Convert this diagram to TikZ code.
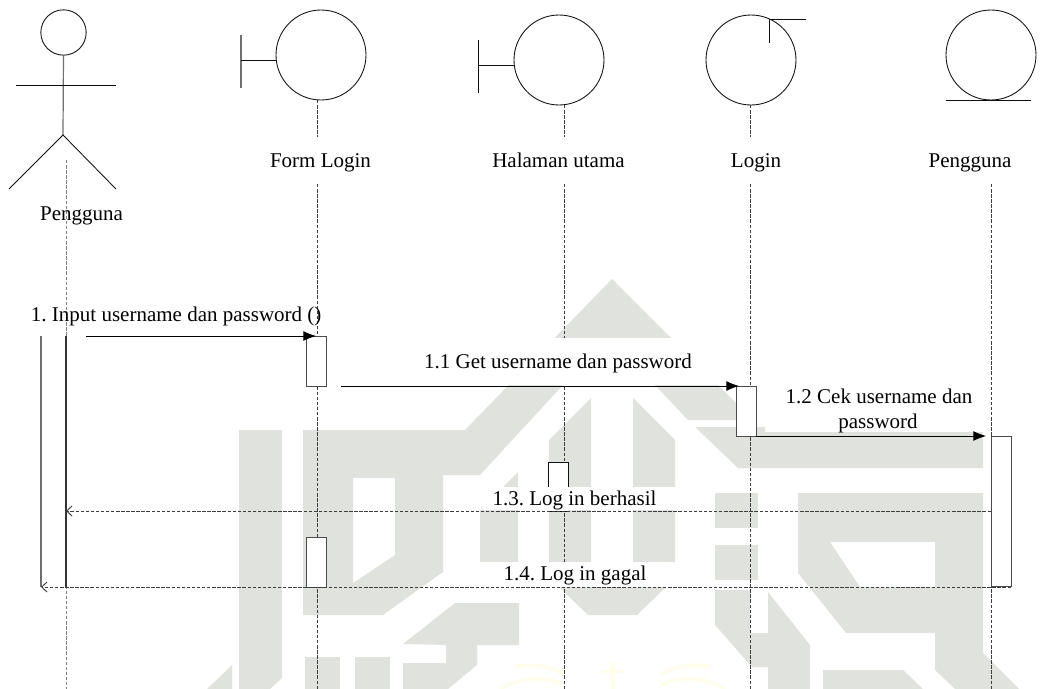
\documentclass[tikz,border=0pt]{standalone}
\usepackage{fontspec}
\setmainfont{Liberation Serif}
\usetikzlibrary{arrows.meta}
\definecolor{wm}{RGB}{224,226,221}
\definecolor{palm}{RGB}{255,254,236}
\definecolor{ink}{RGB}{15,15,15}
\definecolor{dashink}{RGB}{60,60,60}
\tikzset{
  x=0.75pt,y=-0.75pt,
  every node/.style={font=\frenchspacing\fontsize{15.75}{18}\selectfont,text=black,inner sep=0pt,outer sep=0pt},
  shapeline/.style={draw=ink,line width=0.65pt},
  stick/.style={draw=ink!60,line width=0.9pt},
  obj/.style={circle,draw=ink,line width=0.65pt,minimum size=67.5pt,fill=none},
  head/.style={circle,draw=ink,line width=0.65pt,minimum size=34pt,fill=none},
  life/.style={draw=dashink,line width=0.65pt,dash pattern=on 2.6pt off 1.2pt},
  lifelight/.style={draw=gray,line width=0.6pt,dash pattern=on 2.6pt off 1.2pt},
  act/.style={rectangle,draw=ink!75,line width=0.7pt,fill=white,minimum width=15pt},
  msg/.style={draw=black,line width=0.65pt,-{Latex[length=9.5pt,width=7.5pt]}},
  ret/.style={draw=dashink,line width=0.7pt,dash pattern=on 2.6pt off 1.2pt,-{Straight Barb[length=4pt,width=7.5pt]}},
  lbl/.style={anchor=base}
}
\begin{document}
\begin{tikzpicture}
\useasboundingbox (0,0) rectangle (1040,689);
% watermark
\begin{scope}[even odd rule]
\fill[wm] (303,430)--(465,430)--(612,279)--(740,407)--(740,420)--(688,420)--(655,385)--(609,339)--(563,385)--(480,475)--(443,475)--(443,572)--(383,615)--(303,615)--cycle
 (353,478)--(395,478)--(395,555)--(353,583)--cycle;
\fill[wm] (798,493)--(983,493)--(983,653)--(1019,689)--(955,689)--(935,670)--(935,633)--(846,633)--(798,573)--cycle
 (830,542)--(935,542)--(935,587)--(860,587)--cycle;
\end{scope}
\fill[wm] (239,430)--(282,430)--(282,678)--(270,689)--(239,689)--cycle;
\fill[wm] (207,689)--(232,665)--(232,689)--cycle;
\fill[wm] (305,657) rectangle (340,689);
\fill[wm] (355,657) rectangle (390,689);
\fill[wm] (403,644)--(455,603)--(519,603)--(519,645)--(477,645)--(477,665)--(448,689)--(403,689)--(403,663)--(446,663)--(446,645)--cycle;
\fill[wm] (518,472)--(518,562)--(480,562)--(480,510)--cycle;
\fill[wm] (591,398)--(591,562)--(549,562)--(549,440)--cycle;
\fill[wm] (633,398)--(675,440)--(675,562)--(633,562)--cycle;
\fill[wm] (559,587)--(588,615)--(637,615)--(666,587)--cycle;
\fill[wm] (695,427)--(765,427)--(765,432)--(983,432)--(983,468)--(738,468)--cycle;
\fill[wm] (715,493) rectangle (758,528);
\fill[wm] (715,545) rectangle (758,580);
\fill[wm] (715,590)--(750,590)--(750,633)--(768,633)--(768,592)--(810,645)--(810,689)--(768,689)--(768,667)--(752,667)--(715,625)--cycle;
\fill[wm] (823,670)--(903,670)--(923,689)--(823,689)--cycle;
% palm
\begin{scope}[draw=palm,line width=3pt,line cap=round]
\draw (517,666) .. controls (540,664) and (555,668) .. (563,674);
\draw (502,688) .. controls (520,678) and (545,676) .. (563,684);
\draw (709,666) .. controls (686,664) and (671,668) .. (663,674);
\draw (724,688) .. controls (706,678) and (681,676) .. (663,684);
\draw (613,664) -- (613,689);
\draw (603,671) -- (623,671);
\end{scope}
% coordinates
\coordinate (fl1) at (317,100); \coordinate (fl2) at (317,137);
\coordinate (fl3) at (317,184); \coordinate (fl4) at (317,689);
\coordinate (hu1) at (564,105); \coordinate (hu2) at (564,137);
\coordinate (hu3) at (564,184); \coordinate (hu4) at (564,689);
\coordinate (lg1) at (750,105); \coordinate (lg2) at (750,137);
\coordinate (lg3) at (750,184); \coordinate (lg4) at (750,689);
\coordinate (pg3) at (991,184); \coordinate (pg4) at (991,689);
\coordinate (ac3) at (66,160); \coordinate (ac4) at (66,689);
% lifelines
\draw[lifelight] (ac3) -- (ac4);
\draw[life] (fl1) -- (fl2);
\draw[life] (fl3) -- (fl4);
\draw[life] (hu1) -- (hu2);
\draw[life] (hu3) -- (hu4);
\draw[life] (lg1) -- (lg2);
\draw[life] (lg3) -- (lg4);
\draw[life] (pg3) -- (pg4);
% label backgrounds
\fill[white] (400,338) rectangle (736,385);
\fill[white] (445,487) rectangle (690,510);
\fill[white] (445,562) rectangle (670,586.5);
% actor
\node[head] (actorhead) at (63.5,32.5) {};
\coordinate (neck) at (63,55); \coordinate (hip) at (63,135);
\coordinate (armL) at (16,85); \coordinate (armR) at (116,85);
\coordinate (footL) at (9,189); \coordinate (footR) at (116,189);
\draw[stick] (actorhead.south) -- (hip);
\draw[shapeline] (armL) -- (armR);
\draw[shapeline] (footL) -- (hip) -- (footR);
% form login boundary
\node[obj] (form) at (321,55) {};
\coordinate (fbT) at (241,35); \coordinate (fbB) at (241,88); \coordinate (fbM) at (241,60);
\draw[stick] (fbT) -- (fbB);
\draw[shapeline] (fbM) -- (form.west |- fbM);
% halaman boundary
\node[obj] (hal) at (559,60) {};
\coordinate (hbT) at (478.5,40); \coordinate (hbB) at (478.5,93); \coordinate (hbM) at (478.5,65);
\draw[shapeline] (hbT) -- (hbB);
\draw[shapeline] (hbM) -- (hal.west |- hbM);
% login control
\node[obj] (login) at (751,60) {};
\coordinate (lcA) at (769,19); \coordinate (lcB) at (806,19); \coordinate (lcC) at (769,43);
\draw[shapeline] (lcC) -- (lcA) -- (lcB);
% pengguna entity
\node[obj] (entity) at (991,55) {};
\coordinate (enL) at (946,100); \coordinate (enR) at (1031,100);
\draw[shapeline] (enL) -- (enR);
% object labels
\node[lbl] (tAct) at (81.5,220) {Pengguna};
\node[lbl] (tForm) at (320.5,167) {Form Login};
\node[lbl] (tHal) at (558.5,167) {Halaman utama};
\node[lbl] (tLog) at (756,167) {Login};
\node[lbl] (tEnt) at (970,167) {Pengguna};
% actor activation
\coordinate (aaTL) at (41,336); \coordinate (aaBL) at (41,587);
\coordinate (aaTR) at (66,336); \coordinate (aaBR) at (66,587);
\draw[stick] (aaTL) -- (aaBL);
\draw[draw=ink!85,line width=0.8pt] (aaTR) -- (aaBR);
% activations
\node[act,minimum height=37.5pt] (fa1) at (316,361) {};
\node[act,minimum height=37.5pt] (fa2) at (316,562) {};
\node[act,minimum height=37.5pt] (la1) at (746,411) {};
\node[act,minimum height=113pt] (pa1) at (1001,511.5) {};
% halaman activation, sides broken by the label
\coordinate (ha1) at (548,487); \coordinate (ha2) at (548,462);
\coordinate (ha3) at (568,462); \coordinate (ha4) at (568,487);
\coordinate (ha5) at (548,511.5); \coordinate (ha6) at (568,511.5);
\fill[white] (ha2) rectangle (ha4);
\fill[white] (548,510) rectangle (ha6);
\draw[shapeline] (ha1) -- (ha2) -- (ha3) -- (ha4);
\draw[shapeline] (ha5) -- (ha6);
% messages
\coordinate (m1s) at (86,336); \coordinate (m1e) at (316,336);
\coordinate (m2s) at (341,386); \coordinate (m2e) at (739,386);
\coordinate (m3e) at (986,436);
\coordinate (r1s) at (991,511); \coordinate (r1e) at (66,511);
\coordinate (r2s) at (1011,587); \coordinate (r2e) at (41,587);
\draw[msg] (m1s) -- (m1e);
\draw[msg] (m2s) -- (m2e);
\draw[msg] (la1.south east |- m3e) -- (m3e);
\draw[ret] (r1s) -- (r1e);
\draw[ret] (r2s) -- (r2e);
% message labels
\node[anchor=base west] (t1) at (31,321) {1. Input username dan password ()};
\node[lbl] (t2) at (558,368) {1.1 Get username dan password};
\node[lbl] (t3a) at (879,403) {1.2 Cek username dan};
\node[lbl] (t3b) at (878,428) {password};
\node[lbl] (t4) at (574.5,505) {1.3. Log in berhasil};
\node[lbl] (t5) at (575,580) {1.4. Log in gagal};
\end{tikzpicture}
\end{document}
